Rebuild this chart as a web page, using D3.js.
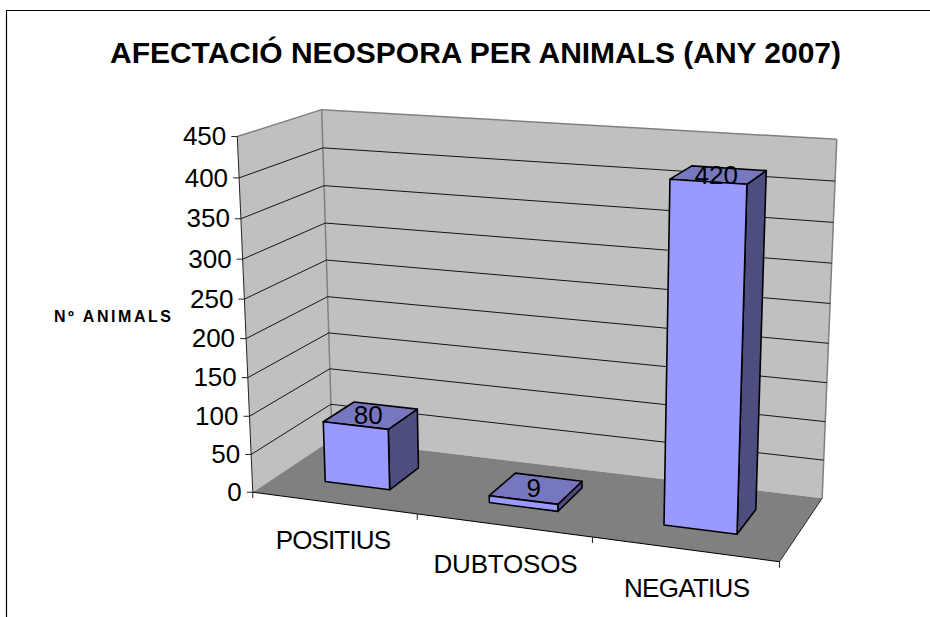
<!DOCTYPE html>
<html><head><meta charset="utf-8">
<script src="https://cdn.jsdelivr.net/npm/d3@7"></script>
<style>html,body{margin:0;padding:0;background:#fff}svg{display:block}text{font-family:"Liberation Sans",Arial,sans-serif}</style>
</head><body><svg id="c" width="930" height="617"></svg>
<script>
const title = "AFECTACIÓ NEOSPORA PER ANIMALS (ANY 2007)";
const yTitle = "Nº ANIMALS";
const categories = ["POSITIUS","DUBTOSOS","NEGATIUS"];
const values = [80,9,420];
const yTicks = [0,50,100,150,200,250,300,350,400,450];

// Fit a projective camera (u,v,d)->(x,y) from the visible box corners
const anchors = [
 [[0,0,0],[252.3,491.5]],[[1,0,0],[780,561.7]],[[1,0,1],[821.7,498.3]],[[0,0,1],[332.5,440]],
 [[0,1,0],[237.3,137.3]],[[0,1,1],[321.7,109]],[[1,1,1],[836.7,139.3]]
];
function solve(A,b){
  const n=b.length,M=A.map((r,i)=>[...r,b[i]]);
  for(let i=0;i<n;i++){
    let p=i;for(let r=i+1;r<n;r++)if(Math.abs(M[r][i])>Math.abs(M[p][i]))p=r;
    [M[i],M[p]]=[M[p],M[i]];
    for(let r=0;r<n;r++){if(r===i)continue;const f=M[r][i]/M[i][i];for(let c=i;c<=n;c++)M[r][c]-=f*M[i][c];}
  }
  return M.map((r,i)=>r[n]/r[i]);
}
const rows=[],rhs=[];
anchors.forEach(([[u,v,d],[x,y]])=>{
  rows.push([u,v,d,1,0,0,0,0,-x*u,-x*v,-x*d]);rhs.push(x);
  rows.push([0,0,0,0,u,v,d,1,-y*u,-y*v,-y*d]);rhs.push(y);
});
const ATA=d3.range(11).map(i=>d3.range(11).map(j=>d3.sum(rows,r=>r[i]*r[j])));
const ATb=d3.range(11).map(i=>d3.sum(rows,(r,k)=>r[i]*rhs[k]));
const P=solve(ATA,ATb);
function proj(u,v,d){
  const w=P[8]*u+P[9]*v+P[10]*d+1;
  return [(P[0]*u+P[1]*v+P[2]*d+P[3])/w,(P[4]*u+P[5]*v+P[6]*d+P[7])/w];
}

const xBand=d3.scaleBand().domain(categories).range([0,1]).paddingInner(0.6).paddingOuter(0.3);
const yVal=d3.scaleLinear().domain([0,450]).range([0,1]);
const zDepth=d3.scaleLinear().domain([0,1]).range([0.3,0.7]);

const svg=d3.select("#c");
const poly=(pts,fill,stroke,sw)=>svg.append("polygon").attr("points",pts.map(p=>p.join(",")).join(" "))
  .attr("fill",fill).attr("stroke",stroke||"none").attr("stroke-width",sw||0).attr("stroke-linejoin","round");
const line=(a,b,stroke,sw)=>svg.append("line").attr("x1",a[0]).attr("y1",a[1]).attr("x2",b[0]).attr("y2",b[1]).attr("stroke",stroke).attr("stroke-width",sw||1);
const fitted=(s,x,y,w,size,weight)=>svg.append("text").attr("x",x).attr("y",y).attr("font-size",size).attr("font-weight",weight||"normal")
  .attr("textLength",w).attr("lengthAdjust","spacing").attr("fill","#000").text(s);

// Frame: left and top edges only
svg.append("path").attr("d","M6.5,617V10.5H930").attr("fill","none").attr("stroke","#000").attr("stroke-width",1.2);

// Title
fitted(title,110,63,731,30,"bold");

// Walls and floor
poly([proj(0,0,0),proj(0,0,1),proj(0,1,1),proj(0,1,0)],"#c0c0c0");
poly([proj(0,0,1),proj(1,0,1),proj(1,1,1),proj(0,1,1)],"#c0c0c0");
poly([proj(0,0,0),proj(1,0,0),proj(1,0,1),proj(0,0,1)],"#808080");
line(proj(0,1,0),proj(0,1,1),"#808080",1.5);
line(proj(0,1,1),proj(1,1,1),"#808080",1.5);
line(proj(1,1,1),proj(1,0,1),"#808080",1.5);
line(proj(0,0,1),proj(0,1,1),"#808080",1.5);

// Gridlines
yTicks.filter(t=>t>0&&t<450).forEach(t=>{
  const v=yVal(t);
  line(proj(0,v,0),proj(0,v,1),"#000",0.9);
  line(proj(0,v,1),proj(1,v,1),"#000",0.9);
});

// Axis lines
line(proj(0,0,0),proj(0,1,0),"#222",1);
line(proj(0,0,0),proj(1,0,0),"#000",1);
line(proj(1,0,0),proj(1,0,1),"#000",0.8);

// Y ticks + labels
yTicks.forEach(t=>{
  const p=proj(0,yVal(t),0);
  line([p[0]-6,p[1]],p,"#222",1);
  svg.append("text").attr("x",p[0]-11).attr("y",p[1]+8.7).attr("text-anchor","end").attr("font-size",26).attr("fill","#000").text(t);
});
// X ticks + labels
[0,1,2,3].forEach(i=>{
  const p=proj(i/3,0,0);
  line(p,[p[0],p[1]+6],"#222",1);
});
const labelBoxes=[[275.7,549.3,115.3],[433.5,573,144],[624,596.7,126]];
categories.forEach((c,i)=>{
  fitted(c,labelBoxes[i][0],labelBoxes[i][1],labelBoxes[i][2],26);
});

// Axis title
fitted(yTitle,54,322,117,16,"bold");

// Bars
categories.forEach((c,i)=>{
  const u0=xBand(c),u1=u0+xBand.bandwidth(),v=yVal(values[i]),d0=zDepth(0),d1=zDepth(1);
  const bs="#000";
  poly([proj(u1,0,d0),proj(u1,0,d1),proj(u1,v,d1),proj(u1,v,d0)],"#4d4d80",bs,1.6);
  poly([proj(u0,v,d0),proj(u1,v,d0),proj(u1,v,d1),proj(u0,v,d1)],"#7777c0",bs,1.6);
  poly([proj(u0,0,d0),proj(u1,0,d0),proj(u1,v,d0),proj(u0,v,d0)],"#9999ff",bs,1.6);
});
// Data labels
categories.forEach((c,i)=>{
  const p=proj(xBand(c)+xBand.bandwidth()/2,yVal(values[i]),0.5);
  svg.append("text").attr("x",p[0]-2.5).attr("y",p[1]+9).attr("text-anchor","middle").attr("font-size",26).attr("fill","#000").text(values[i]);
});
</script></body></html>
